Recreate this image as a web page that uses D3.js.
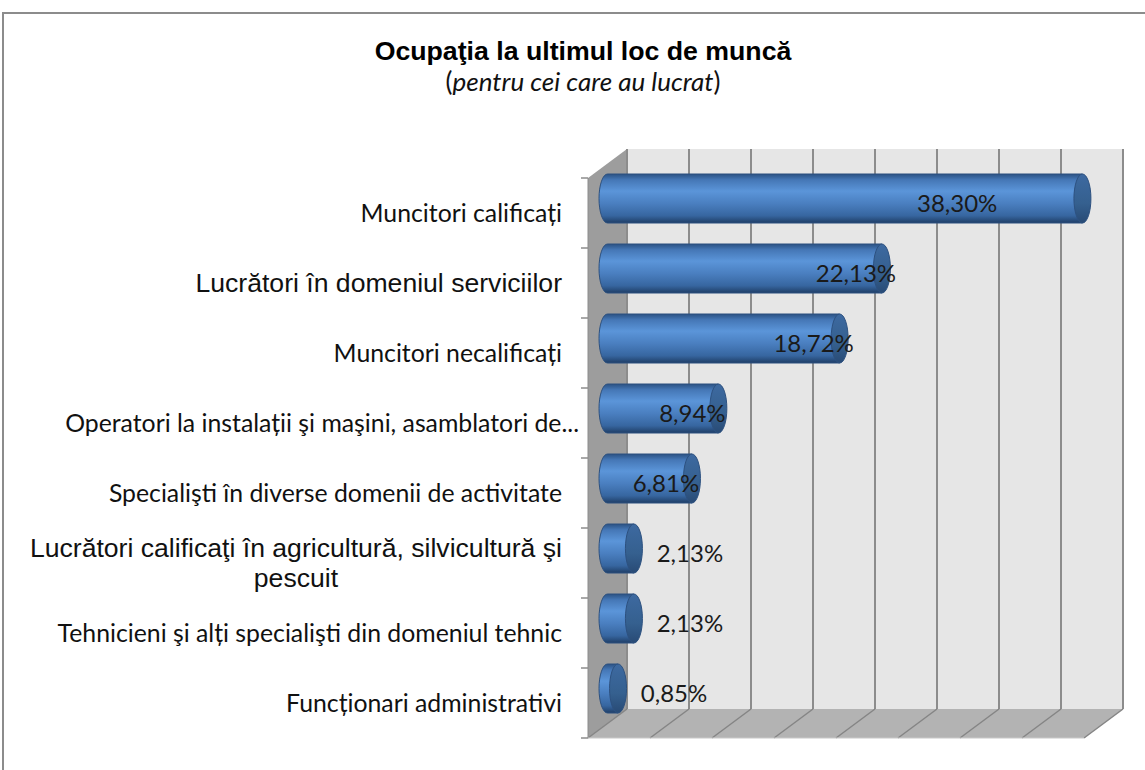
<!DOCTYPE html>
<html>
<head>
<meta charset="utf-8">
<script src="https://cdn.jsdelivr.net/npm/d3@7"></script>
<style>
  body { margin: 0; background: #fff; }
  svg { display: block; }
</style>
</head>
<body>
<div id="chart"></div>
<script>
// date
const categories = [
  "Muncitori calificați",
  "Lucrători în domeniul serviciilor",
  "Muncitori necalificați",
  "Operatori la instalații şi maşini, asamblatori de...",
  "Specialişti în diverse domenii de activitate",
  "Lucrători calificaţi în agricultură, silvicultură şi\npescuit",
  "Tehnicieni şi alți specialişti din domeniul tehnic",
  "Funcționari administrativi"
];
const values = [38.30, 22.13, 18.72, 8.94, 6.81, 2.13, 2.13, 0.85];
const valueLabels = ["38,30%", "22,13%", "18,72%", "8,94%", "6,81%", "2,13%", "2,13%", "0,85%"];
const xTicks = [0, 5, 10, 15, 20, 25, 30, 35, 40];
const title = "Ocupaţia la ultimul loc de muncă";
const subtitle = "pentru cei care au lucrat";

const width = 1145;
const height = 770;

const svg = d3.select("#chart")
  .append("svg")
  .attr("width", width)
  .attr("height", height);

// chenarul graficului
svg.append("rect")
  .attr("x", 3).attr("y", 13)
  .attr("width", 1170).attr("height", 800)
  .attr("fill", "#fff")
  .attr("stroke", "#8c8c8c")
  .attr("stroke-width", 2);

// titlu
svg.append("text")
  .attr("x", 583).attr("y", 60)
  .attr("text-anchor", "middle")
  .style("font-family", "'Liberation Sans', Arial, sans-serif")
  .style("font-weight", "bold")
  .style("font-size", "26.7px")
  .text(title);

const sub = svg.append("text")
  .attr("x", 583).attr("y", 91)
  .attr("text-anchor", "middle")
  .style("font-family", "Lato, sans-serif")
  .style("font-size", "26px")
  .attr("fill", "#111");
sub.append("tspan").text("(");
sub.append("tspan").style("font-style", "italic").text(subtitle);
sub.append("tspan").text(")");

// planul frontal + adancimea 3D
const front = { x0: 588, x1: 1084, y0: 178, y1: 738 };
const dx = 39, dy = -29;

const x = d3.scaleLinear().domain([0, 40]).range([front.x0, front.x1]);
const y = d3.scaleBand().domain(categories).range([front.y0, front.y1]);

const walls = svg.append("g");

// peretele din spate
walls.append("rect")
  .attr("x", front.x0 + dx).attr("y", front.y0 + dy)
  .attr("width", front.x1 - front.x0).attr("height", front.y1 - front.y0)
  .attr("fill", "#e6e6e6");

// peretele lateral
walls.append("path")
  .attr("d", `M${front.x0},${front.y0}L${front.x0 + dx},${front.y0 + dy}L${front.x0 + dx},${front.y1 + dy}L${front.x0},${front.y1}Z`)
  .attr("fill", "#9d9d9d");

// podeaua
walls.append("path")
  .attr("d", `M${front.x0},${front.y1}L${front.x1},${front.y1}L${front.x1 + dx},${front.y1 + dy}L${front.x0 + dx},${front.y1 + dy}Z`)
  .attr("fill", "#b3b3b3");

// linii de grila
walls.selectAll(".grid")
  .data(xTicks)
  .enter()
  .append("line")
  .attr("class", "grid")
  .attr("x1", d => x(d) + dx).attr("x2", d => x(d) + dx)
  .attr("y1", front.y0 + dy).attr("y2", front.y1 + dy)
  .attr("stroke", "#8c8c8c")
  .attr("stroke-width", 2);

walls.selectAll(".gridFloor")
  .data(xTicks)
  .enter()
  .append("line")
  .attr("class", "gridFloor")
  .attr("x1", d => x(d)).attr("y1", front.y1)
  .attr("x2", d => x(d) + dx).attr("y2", front.y1 + dy)
  .attr("stroke", "#858585")
  .attr("stroke-width", 1.5);

// axa verticala si marcaje
walls.append("line")
  .attr("x1", front.x0).attr("x2", front.x0)
  .attr("y1", front.y0).attr("y2", front.y1)
  .attr("stroke", "#8c8c8c");
walls.append("line")
  .attr("x1", front.x0).attr("x2", front.x1)
  .attr("y1", front.y1).attr("y2", front.y1)
  .attr("stroke", "#c8c8c8");

const tickYs = categories.map(c => y(c)).concat([front.y1]);
walls.selectAll(".tick")
  .data(tickYs)
  .enter()
  .append("line")
  .attr("x1", front.x0 - 7).attr("x2", front.x0)
  .attr("y1", d => d).attr("y2", d => d)
  .attr("stroke", "#8c8c8c")
  .attr("stroke-width", 1.5);

// etichete categorii
const arialRows = new Set([1, 5]);
const catG = svg.append("g");
categories.forEach((c, i) => {
  const lines = c.split("\n");
  const cy = y(c) + y.bandwidth() / 2;
  const isArial = arialRows.has(i);
  const family = isArial ? "'Liberation Sans', Arial, sans-serif" : "Lato, sans-serif";
  const size = isArial ? "26.6px" : "24.8px";
  const lh = 30;
  // eticheta trunchiata (cu "...") iese putin spre dreapta, ca in Excel
  const xr = c.endsWith("...") ? 579 : 562;
  const t = catG.append("text")
    .attr("x", xr)
    .attr("y", cy + 9 - (lines.length - 1) * lh / 2)
    .attr("text-anchor", "end")
    .attr("fill", "#111")
    .style("font-family", family)
    .style("font-size", size)
    .text(lines[0]);
  if (lines.length > 1) {
    // randurile urmatoare centrate sub primul
    const w = t.node().getComputedTextLength();
    lines.slice(1).forEach((ln, k) => {
      catG.append("text")
        .attr("x", xr - w / 2)
        .attr("y", cy + 9 - (lines.length - 1) * lh / 2 + (k + 1) * lh)
        .attr("text-anchor", "middle")
        .attr("fill", "#111")
        .style("font-family", family)
        .style("font-size", size)
        .text(ln);
    });
  }
});

// gradient cilindri
const defs = svg.append("defs");
const grad = defs.append("linearGradient")
  .attr("id", "cyl").attr("x1", 0).attr("y1", 0).attr("x2", 0).attr("y2", 1);
[[0, "#2b5283"], [0.12, "#4577b6"], [0.35, "#5b95d9"], [0.6, "#4a7fc0"], [0.85, "#3766a0"], [1, "#1f3e66"]]
  .forEach(s => grad.append("stop").attr("offset", s[0]).attr("stop-color", s[1]));
const capGrad = defs.append("linearGradient")
  .attr("id", "cap").attr("x1", 0).attr("y1", 0).attr("x2", 0).attr("y2", 1);
[[0, "#3d69a0"], [0.6, "#35608f"], [1, "#284a75"]]
  .forEach(s => capGrad.append("stop").attr("offset", s[0]).attr("stop-color", s[1]));

// bare cilindrice, in planul de la mijlocul adancimii
const ry = y.bandwidth() * 0.35;
const rx = 8.5;
const data = categories.map((c, i) => ({ cat: c, value: values[i], label: valueLabels[i] }));

const bars = svg.append("g")
  .selectAll("g")
  .data(data)
  .enter()
  .append("g");

bars.append("path")
  .attr("d", d => {
    const xs = x(0) + dx / 2;
    const xe = x(d.value) + dx / 2;
    const cy = y(d.cat) + y.bandwidth() / 2 + dy / 2;
    return `M${xs},${cy - ry}L${xe},${cy - ry}L${xe},${cy + ry}L${xs},${cy + ry}` +
      `A${rx},${ry} 0 0 1 ${xs},${cy - ry}Z`;
  })
  .attr("fill", "url(#cyl)")
  .attr("stroke", "#2d5180")
  .attr("stroke-width", 1);

bars.append("ellipse")
  .attr("cx", d => x(d.value) + dx / 2)
  .attr("cy", d => y(d.cat) + y.bandwidth() / 2 + dy / 2)
  .attr("rx", rx)
  .attr("ry", ry)
  .attr("fill", "url(#cap)")
  .attr("stroke", "#2d5180")
  .attr("stroke-width", 1);

// etichete de valoare
svg.append("g")
  .selectAll("text")
  .data(data)
  .enter()
  .append("text")
  .attr("x", d => d.value < 5 ? x(d.value) + dx / 2 + 56 : Math.min(x(d.value) - 26, x(28.2)) + dx / 2)
  .attr("y", d => y(d.cat) + y.bandwidth() / 2 - 1)
  .attr("text-anchor", "middle")
  .attr("fill", "#1a1a1a")
  .style("font-family", "Lato, sans-serif")
  .style("font-size", "24px")
  .text(d => d.label);
</script>
</body>
</html>
